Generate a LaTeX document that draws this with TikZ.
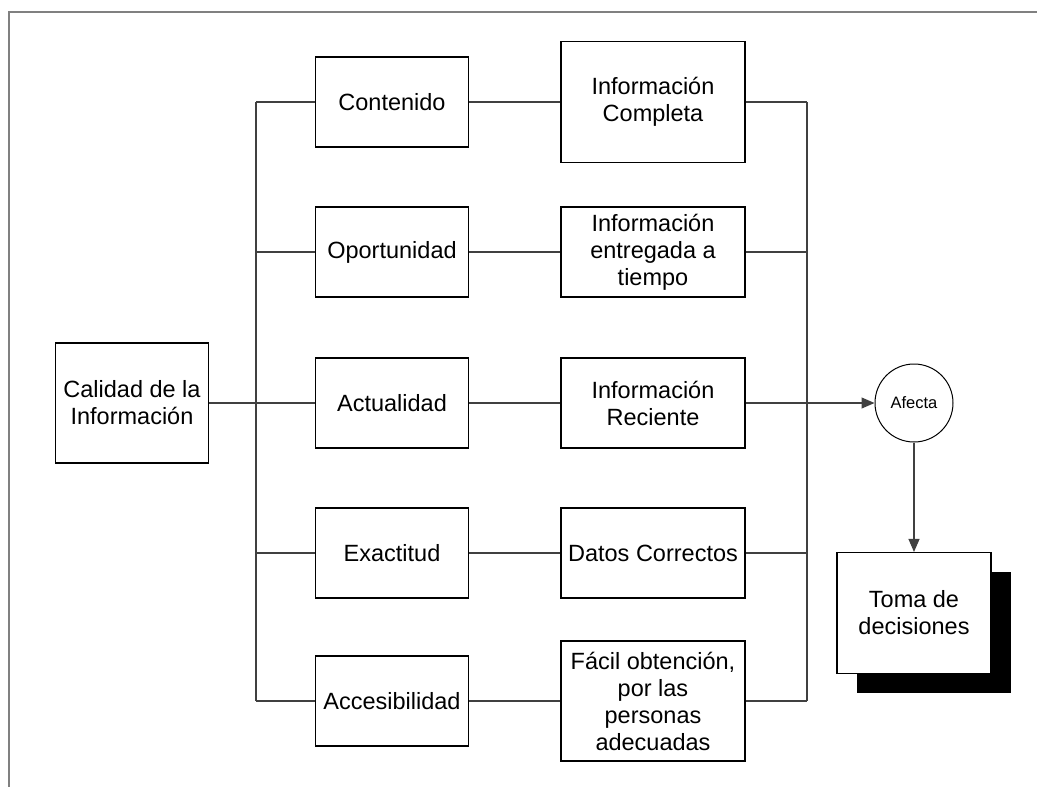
\documentclass[tikz,border=0pt]{standalone}
\usepackage{fontspec}
\setmainfont{Liberation Sans}
\usetikzlibrary{arrows.meta,shadows}

\tikzset{
  caja/.style={draw, line width=1.1pt, minimum width=153pt, minimum height=90pt, align=center, inner sep=2pt},
  info/.style={caja, minimum width=184pt},
  linea/.style={draw=black!75, line width=1.1pt},
  flecha/.style={linea, -{Triangle[length=13pt,width=11pt]}}
}

\begin{document}
\begin{tikzpicture}[x=1pt, y=-1pt, font=\fontsize{23.5}{27}\selectfont]
\useasboundingbox (0,0) rectangle (1037,787);
% marco
\draw[gray, line width=1.3pt] (9,787) -- (9,12) -- (1037,12);

% cajas
\node[caja, minimum height=120pt] (calidad) at (132,403) {Calidad de la\\Información};
\node[caja] (contenido) at (392,102) {Contenido};
\node[caja] (oportunidad) at (392,252) {Oportunidad};
\node[caja] (actualidad) at (392,403) {Actualidad};
\node[caja] (exactitud) at (392,553) {Exactitud};
\node[caja] (accesib) at (392,701) {Accesibilidad};

\node[info, minimum height=121pt] (completa) at (653,102) {Información\\Completa};
\node[info] (tiempo) at (653,252) {Información\\entregada a\\tiempo};
\node[info] (reciente) at (653,403) {Información\\Reciente};
\node[info] (correctos) at (653,553) {Datos Correctos};
\node[info, minimum height=120pt] (facil) at (653,701) {Fácil obtención,\\por las\\personas\\adecuadas};

\node[draw, circle, minimum size=78pt, inner sep=0pt, line width=1pt, font=\fontsize{16.5}{19}\selectfont] (afecta) at (914,403) {Afecta};
\node[caja, minimum width=154pt, minimum height=121pt, fill=white,
      drop shadow={shadow xshift=20pt, shadow yshift=-19pt, fill=black, opacity=1}] (toma) at (914,613) {Toma de\\decisiones};

% buses
\coordinate (busL) at (256,0);
\coordinate (busR) at (807,0);
\draw[linea] (calidad) -- (busL |- calidad);
\draw[linea] (busL |- contenido) -- (busL |- accesib);
\foreach \a/\b in {contenido/completa, oportunidad/tiempo, actualidad/reciente, exactitud/correctos, accesib/facil} {
  \draw[linea] (busL |- \a) -- (\a);
  \draw[linea] (\a) -- (\b);
}
\foreach \b in {completa, tiempo, correctos, facil}
  \draw[linea] (\b) -- (busR |- \b);
\draw[linea] (busR |- completa) -- (busR |- facil);

% flechas
\draw[flecha] (reciente) -- (afecta);
\draw[flecha] (afecta) -- (toma);
\end{tikzpicture}
\end{document}
